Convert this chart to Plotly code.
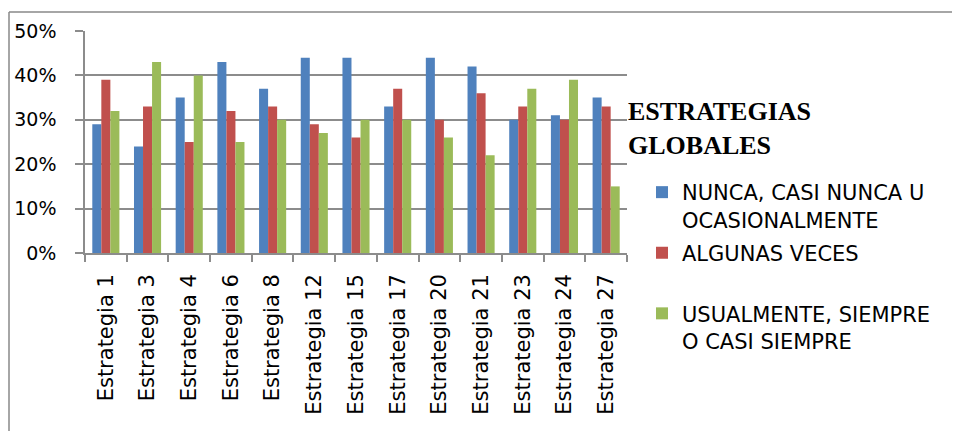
import plotly.graph_objects as go

categories = ["Estrategia 1", "Estrategia 3", "Estrategia 4", "Estrategia 6", "Estrategia 8",
              "Estrategia 12", "Estrategia 15", "Estrategia 17", "Estrategia 20", "Estrategia 21",
              "Estrategia 23", "Estrategia 24", "Estrategia 27"]
nunca = [0.29, 0.24, 0.35, 0.43, 0.37, 0.44, 0.44, 0.33, 0.44, 0.42, 0.30, 0.31, 0.35]
algunas = [0.39, 0.33, 0.25, 0.32, 0.33, 0.29, 0.26, 0.37, 0.30, 0.36, 0.33, 0.30, 0.33]
usualmente = [0.32, 0.43, 0.40, 0.25, 0.30, 0.27, 0.30, 0.30, 0.26, 0.22, 0.37, 0.39, 0.15]
series_names = ["NUNCA, CASI NUNCA U<br>OCASIONALMENTE", "ALGUNAS VECES<br> ",
                "USUALMENTE, SIEMPRE<br>O CASI SIEMPRE"]
y_ticks = [0, 0.1, 0.2, 0.3, 0.4, 0.5]

colors = ["#4F81BD", "#C0504D", "#9BBB59"]
W, H = 960, 431
OFF = 8  # page body margin
L, R, T, B = 85 - OFF, 627 - OFF, 31 - OFF, 253 - OFF

fig = go.Figure()
for i, (name, vals, c) in enumerate(zip(series_names, [nunca, algunas, usualmente], colors)):
    fig.add_trace(go.Bar(x=categories, y=vals, name=name, legendgroup=f"g{i}",
                         marker=dict(color=c, line=dict(width=0))))

def px(x):
    return (x - OFF - L) / (R - L)

def py(y):
    return (B - (y - OFF)) / (B - T)

grid = "#8C8C8C"
fig.update_layout(
    width=W, height=H,
    margin=dict(l=L, r=W - R, t=T, b=H - B, pad=0, autoexpand=False),
    paper_bgcolor="white", plot_bgcolor="white",
    barmode="group", bargap=0.35, bargroupgap=0,
    font=dict(family="DejaVu Sans", color="black"),
    xaxis=dict(tickangle=-90, tickfont=dict(size=21, family="DejaVu Sans"), ticks="outside",
               tickson="boundaries", ticklen=7, tickcolor=grid, tickwidth=1.5, ticklabelstandoff=11,
               showline=True, linecolor=grid, linewidth=1.5, showgrid=False),
    yaxis=dict(range=[0, 0.5], tickvals=y_ticks, tickformat=".0%",
               tickfont=dict(size=19, family="DejaVu Sans"),
               ticks="outside", ticklen=8, tickcolor=grid, tickwidth=1.5, ticklabelstandoff=15,
               showline=True, linecolor=grid, linewidth=1.5,
               showgrid=True, gridcolor=grid, gridwidth=1.5, zeroline=False),
    legend=dict(x=px(642), y=py(172), xanchor="left", yanchor="top", valign="top",
                font=dict(size=21, family="DejaVu Sans"), itemsizing="constant", tracegroupgap=3,
                bgcolor="rgba(0,0,0,0)"),
    showlegend=True,
)
fig.add_annotation(xref="paper", yref="paper", x=px(626), y=py(95), xanchor="left", yanchor="top",
                   text="<b>ESTRATEGIAS<br>GLOBALES</b>", showarrow=False, align="left",
                   font=dict(family="Liberation Serif", size=26, color="black"))
fig.add_shape(type="line", xref="paper", yref="paper", x0=px(9), x1=px(970), y0=py(12), y1=py(12),
              line=dict(color="#888888", width=1.5))
fig.add_shape(type="line", xref="paper", yref="paper", x0=px(9), x1=px(9), y0=py(12), y1=py(440),
              line=dict(color="#888888", width=1.5))
fig.write_html("out.html")
